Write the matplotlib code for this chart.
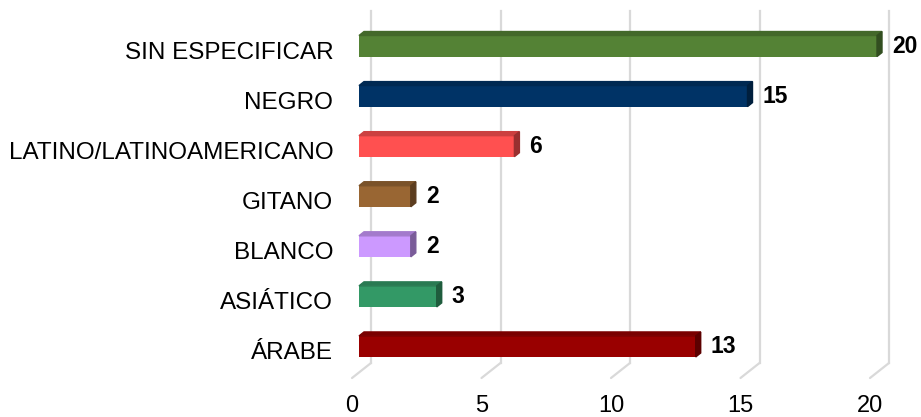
import matplotlib.pyplot as plt
from matplotlib.patches import Polygon
from matplotlib.transforms import ScaledTranslation
import matplotlib.colors as mcolors

categories = ["ÁRABE", "ASIÁTICO", "BLANCO", "GITANO",
              "LATINO/LATINOAMERICANO", "NEGRO", "SIN ESPECIFICAR"]
values = [13, 3, 2, 2, 6, 15, 20]
colors = ["#990000", "#339966", "#cc99ff", "#996633",
          "#ff5050", "#003366", "#548235"]
xticks = [0, 5, 10, 15, 20]

plt.rcParams['font.family'] = ['Liberation Sans', 'DejaVu Sans']

W, H, DPI = 921, 417, 100
fig = plt.figure(figsize=(W / DPI, H / DPI), dpi=DPI)
# axes = front plane of the 3d box
left, right, bottom, top = 352, 870, 378, 26
ax = fig.add_axes([left / W, 1 - bottom / H, (right - left) / W, (bottom - top) / H])
ax.set_xlim(0, 20)
ax.set_ylim(-0.54, 6.49)
for s in ax.spines.values():
    s.set_visible(False)


def px(dx, dy):
    # shift in pixels (right, up)
    return ScaledTranslation(dx / DPI, dy / DPI, fig.dpi_scale_trans)


back = ax.transData + px(19, 15)
grid_c = "#d9d9d9"
for t in xticks:
    ax.plot([t, t], [-0.54, 6.49], color=grid_c, lw=1.6, transform=back, clip_on=False)
    # floor diagonal
    x0, y0 = ax.transData.transform((t, -0.54))
    ax.annotate("", xy=(x0, y0), xycoords="figure pixels",
                xytext=(x0 + 19, y0 + 15), textcoords="figure pixels",
                arrowprops=dict(arrowstyle="-", color=grid_c, lw=1.6,
                                shrinkA=0, shrinkB=0))


def darker(c, f):
    r, g, b = mcolors.to_rgb(c)
    return (r * f, g * f, b * f)


bar_plane = ax.transData + px(7, 4.5)
d = (5, 4)
h = 0.42
for i, (v, c) in enumerate(zip(values, colors)):
    ax.barh(i, v, height=h, color=c, transform=bar_plane, clip_on=False, zorder=3)
    # top and side faces from the front face corners
    p0 = bar_plane.transform((0, i + h / 2))
    p1 = bar_plane.transform((v, i + h / 2))
    p2 = bar_plane.transform((v, i - h / 2))
    top_face = [p0, p1, (p1[0] + d[0], p1[1] + d[1]), (p0[0] + d[0], p0[1] + d[1])]
    side_face = [p2, p1, (p1[0] + d[0], p1[1] + d[1]), (p2[0] + d[0], p2[1] + d[1])]
    ax.add_patch(Polygon(top_face, closed=True, transform=None, color=darker(c, 0.8),
                         clip_on=False, zorder=3))
    ax.add_patch(Polygon(side_face, closed=True, transform=None, color=darker(c, 0.6),
                         clip_on=False, zorder=3))
    ax.text(v, i, str(v), transform=ax.transData + px(22, 4.5), fontsize=16.5,
            fontweight="bold", ha="left", va="center", clip_on=False)

ax.set_yticks(range(len(categories)))
ax.set_yticklabels(categories, fontsize=17.5)
ax.set_xticks(xticks)
ax.set_xticklabels([str(t) for t in xticks], fontsize=17)
ax.tick_params(axis="y", length=0, pad=13.5)
ax.tick_params(axis="x", length=0, pad=12)

fig.savefig("out.png", dpi=DPI)
